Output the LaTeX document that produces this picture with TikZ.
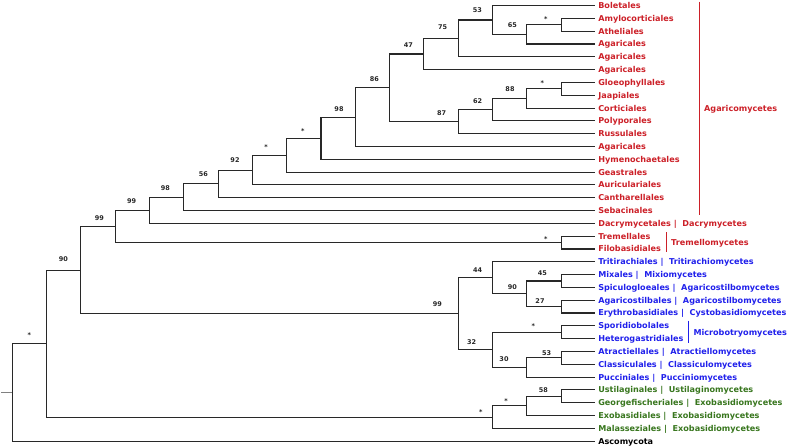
\documentclass[tikz,border=0pt]{standalone}
\usepackage{fontspec}
\setmainfont{DejaVu Sans}
\definecolor{agred}{RGB}{204,32,40}
\definecolor{agblue}{RGB}{32,32,235}
\definecolor{aggreen}{RGB}{56,118,30}
\definecolor{treeline}{RGB}{40,40,40}
\begin{document}
\begin{tikzpicture}[x=1pt,y=-1pt,
  branch/.style={draw=treeline,line width=1.1pt},
  stubline/.style={draw=gray,line width=0.6pt},
  leaf/.style={font=\fontsize{8.1}{9}\selectfont\bfseries,anchor=west,inner xsep=3pt,inner ysep=0pt,text height=5.9pt,text depth=0pt},
  supp/.style={font=\fontsize{6.5}{7}\selectfont\bfseries,inner sep=0pt,text height=4.7pt,text depth=0pt,text=black!85},
  bracket/.style={line width=1pt}]
\useasboundingbox (0,0) rectangle (788,447);
% leaves
\foreach \i/\t/\c in {
 0/Boletales/agred, 1/Amylocorticiales/agred, 2/Atheliales/agred, 3/Agaricales/agred,
 4/Agaricales/agred, 5/Agaricales/agred, 6/Gloeophyllales/agred, 7/Jaapiales/agred,
 8/Corticiales/agred, 9/Polyporales/agred, 10/Russulales/agred, 11/Agaricales/agred,
 12/Hymenochaetales/agred, 13/Geastrales/agred, 14/Auriculariales/agred,
 15/Cantharellales/agred, 16/Sebacinales/agred,
 17/Dacrymycetales~|~~Dacrymycetes/agred,
 18/Tremellales/agred, 19/Filobasidiales/agred,
 20/Tritirachiales~|~~Tritirachiomycetes/agblue,
 21/Mixales~|~~Mixiomycetes/agblue,
 22/Spiculogloeales~|~~Agaricostilbomycetes/agblue,
 23/Agaricostilbales~|~~Agaricostilbomycetes/agblue,
 24/Erythrobasidiales~|~~Cystobasidiomycetes/agblue,
 25/Sporidiobolales/agblue, 26/Heterogastridiales/agblue,
 27/Atractiellales~|~~Atractiellomycetes/agblue,
 28/Classiculales~|~~Classiculomycetes/agblue,
 29/Pucciniales~|~~Pucciniomycetes/agblue,
 30/Ustilaginales~|~~Ustilaginomycetes/aggreen,
 31/Georgefischeriales~|~~Exobasidiomycetes/aggreen,
 32/Exobasidiales~|~~Exobasidiomycetes/aggreen,
 33/Malasseziales~|~~Exobasidiomycetes/aggreen,
 34/Ascomycota/black}
{
  \coordinate (l\i) at (595.1,{5.6+12.81*\i});
  \node[leaf,text=\c] (t\i) at (l\i) {\t};
}
% internal nodes
\coordinate (stub) at (1,392.385);
\coordinate (R) at (12.3,392.385);
\coordinate (A) at (46.6,343.63);
\coordinate (B) at (80.9,270.14);
\coordinate (n19) at (115.2,226.44);
\coordinate (n17) at (149.5,210.3);
\coordinate (n16) at (183.8,197.24);
\coordinate (n15) at (218.1,183.91);
\coordinate (n14) at (252.4,170.07);
\coordinate (n13) at (286.7,155.2);
\coordinate (n12) at (321.0,138.26);
\coordinate (n11) at (355.3,117.19);
\coordinate (n10) at (389.6,87.87);
\coordinate (n5) at (423.9,54.04);
\coordinate (n4) at (458.2,38.43);
\coordinate (n3) at (492.5,20.01);
\coordinate (n2) at (526.8,34.42);
\coordinate (n1) at (561.1,24.815);
\coordinate (n9) at (458.2,121.69);
\coordinate (n8) at (492.5,109.68);
\coordinate (n7) at (526.8,98.47);
\coordinate (n6) at (561.1,88.865);
\coordinate (n18) at (561.1,242.59);
\coordinate (p9) at (458.2,313.84);
\coordinate (p4) at (492.5,277.81);
\coordinate (p3) at (526.8,293.825);
\coordinate (p1) at (561.1,281.015);
\coordinate (p2) at (561.1,306.635);
\coordinate (p8) at (492.5,349.87);
\coordinate (p5) at (561.1,332.255);
\coordinate (p7) at (526.8,367.48);
\coordinate (p6) at (561.1,357.875);
\coordinate (u3) at (492.5,417.12);
\coordinate (u2) at (526.8,405.91);
\coordinate (u1) at (561.1,396.305);
% branches
\foreach \p/\c in {n1/l1,n1/l2,n2/n1,n2/l3,n3/l0,n3/n2,n4/n3,n4/l4,n5/n4,n5/l5,
  n6/l6,n6/l7,n7/n6,n7/l8,n8/n7,n8/l9,n9/n8,n9/l10,n10/n5,n10/n9,n11/n10,n11/l11,
  n12/n11,n12/l12,n13/n12,n13/l13,n14/n13,n14/l14,n15/n14,n15/l15,n16/n15,n16/l16,
  n17/n16,n17/l17,n18/l18,n18/l19,n19/n17,n19/n18,
  p1/l21,p1/l22,p2/l23,p2/l24,p3/p1,p3/p2,p4/l20,p4/p3,p5/l25,p5/l26,p6/l27,p6/l28,
  p7/p6,p7/l29,p8/p5,p8/p7,p9/p4,p9/p8,B/n19,B/p9,
  u1/l30,u1/l31,u2/u1,u2/l32,u3/u2,u3/l33,A/B,A/u3,R/A,R/l34}
  \draw[branch] (\p) |- (\c);
\draw[stubline] (stub) -- (R);
% support values
\foreach \n/\x/\y/\t in {
 A/29.3/335.2/*, B/63.3/259.3/90, n19/99.3/218/99, n17/131.7/200.7/99,
 n16/165.3/187.7/98, n15/203.3/174/56, n14/235/159.7/92, n13/266/147.2/*,
 n12/302.7/130.8/*, n11/339/109.3/98, n10/374.3/79/86, n5/408.3/45/47,
 n4/442.7/27.3/75, n3/477.3/10.3/53, n2/512.3/25/65, n1/545.7/18.8/*,
 n9/441.7/113.3/87, n8/477.7/100.7/62, n7/510/89.3/88, n6/542.3/83.2/*,
 n18/545.7/238.8/*, p9/437.3/304.3/99, p4/477.7/270/44, p3/512.3/286.7/90,
 p1/542.3/273.3/45, p2/540/300.7/27, p5/533.3/326.5/*, p8/471.7/341.7/32,
 p7/504/359.3/30, p6/546.7/352.7/53, u1/543.3/390/58, u2/506/400.8/*,
 u3/480.7/412.5/*}
  \node[supp] (s\n) at (\x,\y) {\t};
% clade brackets
\draw[bracket,agred] (699,1.7) -- (699,215);
\node[leaf,text=agred] (agaricomycetes) at (701,108.08) {Agaricomycetes};
\draw[bracket,agred] (666,232) -- (666,252);
\node[leaf,text=agred] (tremellomycetes) at (668,242.59) {Tremellomycetes};
\draw[bracket,agblue] (688.3,320.7) -- (688.3,342.7);
\node[leaf,text=agblue] (microbotryomycetes) at (690.3,332.255) {Microbotryomycetes};
\end{tikzpicture}
\end{document}
